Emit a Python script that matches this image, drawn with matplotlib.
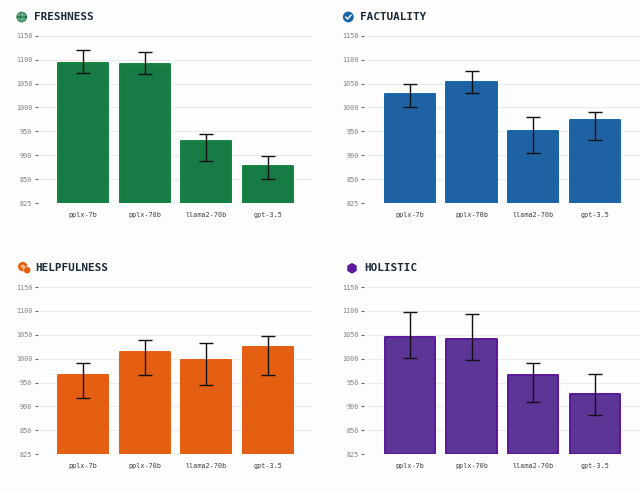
import numpy as np
from matplotlib import pyplot as plt
from matplotlib.patches import Circle, RegularPolygon, Rectangle

W, H = 640, 492

models = ["pplx-7b", "pplx-70b", "llama2-70b", "gpt-3.5"]
y_ticks = [825, 850, 900, 950, 1000, 1050, 1100, 1150]

freshness = [1092, 1091, 929, 877]
freshness_low = [1073, 1070, 887, 851]
freshness_high = [1120, 1116, 945, 898]

factuality = [1029, 1053, 950, 973]
factuality_low = [1001, 1030, 904, 931]
factuality_high = [1048, 1077, 979, 991]

helpfulness = [965, 1015, 998, 1024]
helpfulness_low = [917, 965, 944, 966]
helpfulness_high = [992, 1040, 1033, 1047]

holistic = [1046, 1041, 966, 926]
holistic_low = [1002, 997, 909, 883]
holistic_high = [1097, 1093, 992, 968]

# axis is not linear, 825-850 takes the same room as the 50 steps above it
tick_pos = np.arange(len(y_ticks))


def forward(v):
    return np.interp(v, y_ticks, tick_pos)


def inverse(p):
    return np.interp(p, tick_pos, y_ticks)


def draw_panel(box, title, title_x, title_y, vals, low, high, fill, edge):
    left, top, right, bottom = box
    ax = fig.add_axes([left / W, 1 - bottom / H, (right - left) / W, (bottom - top) / H])
    ax.set_facecolor("none")
    ax.set_yscale("function", functions=(forward, inverse))
    x = np.arange(len(models))
    ax.bar(x, np.array(vals) - 825, bottom=825, width=0.81, color=fill, edgecolor=edge,
           linewidth=1.4, joinstyle="round", zorder=2)
    yerr = [np.array(vals) - np.array(low), np.array(high) - np.array(vals)]
    ax.errorbar(x, vals, yerr=yerr, fmt="none", ecolor="#111111", elinewidth=1.0,
                capsize=4.9, capthick=1.0, zorder=3)
    ax.set_xlim(-0.70, 3.72)
    ax.set_ylim(825, 1150)
    ax.set_yticks(y_ticks)
    ax.set_xticks(x, models)
    ax.minorticks_off()
    ax.grid(axis="y", color="#ececec", linewidth=0.8, zorder=0)
    ax.set_axisbelow(True)
    for side in ["top", "right", "bottom"]:
        ax.spines[side].set_visible(False)
    ax.spines["left"].set_color("none")
    ax.spines["left"].set_position(("outward", 1.5))
    ax.tick_params(axis="y", length=2.2, width=0.8, color="#666666", labelcolor="#7f7f7f",
                   labelsize=4.9, pad=1.7)
    ax.tick_params(axis="x", length=0, labelcolor="#3c3c3c", labelsize=4.9, pad=6.2)
    fig.text(title_x / W, 1 - title_y / H, title, fontsize=7.9, color="#1b2a3a",
             fontweight="bold", family="DejaVu Sans Mono", va="center", ha="left")
    return ax


plt.rcParams["font.family"] = "DejaVu Sans Mono"
fig = plt.figure(figsize=(W / 100, H / 100), dpi=100, facecolor="#fdfdfd")

draw_panel((40, 35.7, 312, 203), "FRESHNESS", 34.3, 17, freshness, freshness_low,
           freshness_high, "#177b46", "#12853f")
draw_panel((366.5, 35.7, 639.5, 203), "FACTUALITY", 360.3, 17, factuality, factuality_low,
           factuality_high, "#1f62a3", "#1566ab")
draw_panel((40, 287, 312, 454.3), "HELPFULNESS", 35.3, 268.3, helpfulness, helpfulness_low,
           helpfulness_high, "#e55f12", "#e85c0d")
draw_panel((366.5, 287, 639.5, 454.3), "HOLISTIC", 364, 268.3, holistic, holistic_low,
           holistic_high, "#5c3596", "#5a189a")

# small icons next to the titles, in pixel coords
icons = fig.add_axes([0, 0, 1, 1], zorder=5)
icons.set_xlim(0, W)
icons.set_ylim(H, 0)
icons.axis("off")

icons.add_patch(Circle((21.7, 17), 4.6, color="#12703c"))
icons.plot([17.4, 26], [15.4, 15.4], color="white", lw=0.35)
icons.plot([17.4, 26], [18.6, 18.6], color="white", lw=0.35)
icons.plot([21.7, 21.7], [12.6, 21.4], color="white", lw=0.35)
icons.add_patch(Rectangle((19.4, 13.2), 4.6, 7.6, fill=False, edgecolor="white", lw=0.25))

icons.add_patch(Circle((348.3, 17), 4.7, color="#1566ab"))
icons.plot([345.8, 347.6, 351], [17, 19, 15.2], color="white", lw=1.0)

icons.add_patch(Circle((22.8, 266.6), 4.0, color="#e85c0d"))
icons.add_patch(Circle((27.2, 270.2), 3.6, color="#e85c0d", ec="#fdfdfd", lw=0.4))
icons.add_patch(Circle((22.8, 266.6), 1.3, color="#f6b48a"))

icons.add_patch(RegularPolygon((352, 268.3), 6, radius=4.6, color="#5a189a"))

fig.savefig("out.png", dpi=100, facecolor=fig.get_facecolor())
